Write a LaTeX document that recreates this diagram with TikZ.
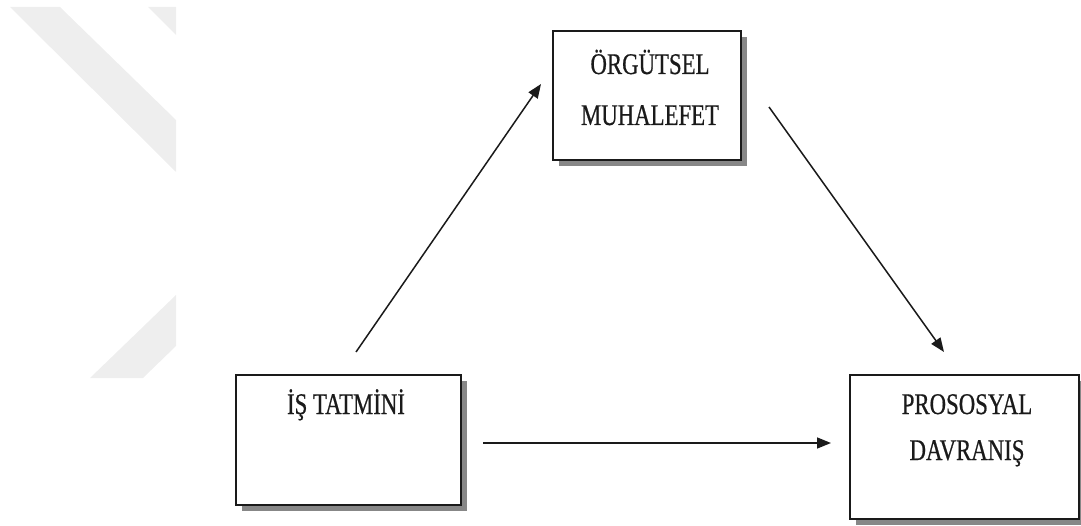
\documentclass[tikz,border=0pt]{standalone}
\usepackage{fontspec}
\setmainfont{Liberation Serif}
\newfontfamily\boxfont[FakeStretch=0.76,FakeBold=0.6]{Liberation Serif}
\usetikzlibrary{arrows.meta,shadows}
\definecolor{bandgray}{HTML}{EEEEEE}
\definecolor{ink}{HTML}{1A1A1A}
\definecolor{shade}{HTML}{878787}
\tikzset{
  panel/.style={draw=ink, line width=1.8pt, fill=white, inner sep=0pt,
    drop shadow={shadow xshift=6pt, shadow yshift=-6pt, fill=shade, opacity=1}},
  caption/.style={font=\boxfont\fontsize{30}{36}\selectfont, inner sep=0pt,
    anchor=base, text=ink},
  link/.style={draw=ink, line width=1.5pt, -{Triangle[length=14pt,width=11pt]}},
  band/.style={fill=bandgray}
}
\begin{document}
\begin{tikzpicture}[x=1pt,y=-1pt]
\useasboundingbox (0,0) rectangle (1081,526);

% faint background bands
\fill[band] (10,7) -- (60,7) -- (176,120) -- (176,172) -- cycle;
\fill[band] (148,7) -- (176,7) -- (176,35) -- cycle;
\fill[band] (90,378) -- (143,378) -- (176,346) -- (176,295) -- cycle;

% boxes
\node[panel, minimum width=188pt, minimum height=129pt] (org) at (647,95.5) {};
\node[panel, minimum width=225pt, minimum height=130pt] (job) at (348.5,440) {};
\node[panel, minimum width=229pt, minimum height=144pt] (pro) at (964.5,447) {};

% box texts
\node[caption] (orgA) at (650,74) {ÖRGÜTSEL};
\node[caption] (orgB) at (650,125) {MUHALEFET};
\node[caption] (jobA) at (346,414) {İŞ TATMİNİ};
\node[caption] (proA) at (967,414) {PROSOSYAL};
\node[caption] (proB) at (967,460) {DAVRANIŞ};

% arrow end points
\coordinate (a1s) at (356,352);
\coordinate (a1e) at (541,84);
\coordinate (a2s) at (769,107);
\coordinate (a2e) at (944,352);
\coordinate (a3s) at (483,443);
\coordinate (a3e) at (831,443);

\draw[link] (a1s) -- (a1e);
\draw[link] (a2s) -- (a2e);
\draw[link] (a3s) -- (a3e);
\end{tikzpicture}
\end{document}
